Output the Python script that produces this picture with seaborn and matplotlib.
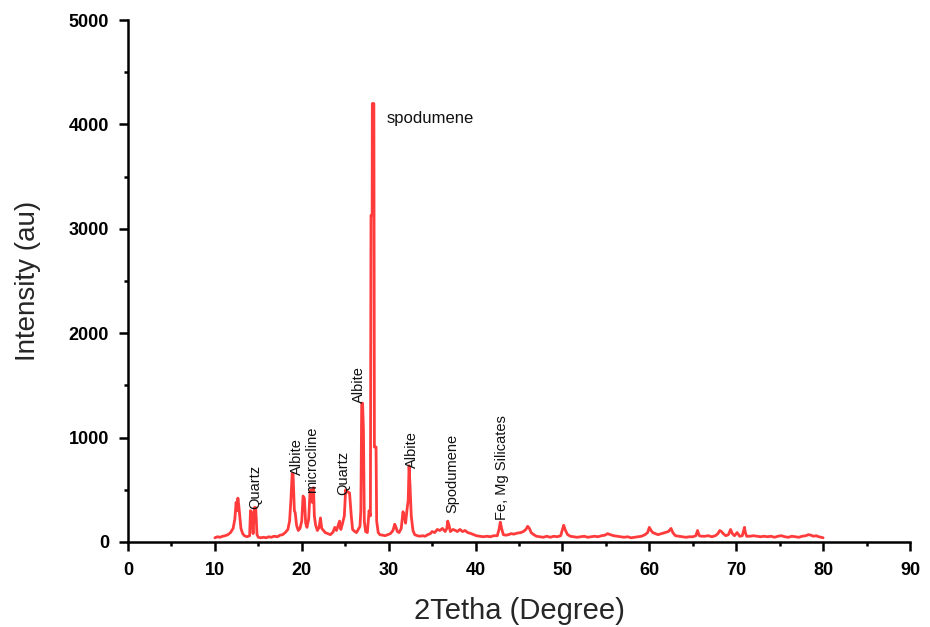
import matplotlib
matplotlib.use("Agg")
import matplotlib.pyplot as plt
import seaborn as sns
import pandas as pd

two_theta = [10.0, 10.3, 10.6, 10.9, 11.2, 11.5, 11.8, 12.1, 12.3, 12.45, 12.55, 12.65, 12.75, 12.85, 13.0, 13.2, 13.4, 13.7,
             14.0, 14.1, 14.25, 14.4, 14.55, 14.7, 14.85, 15.0, 15.3, 15.6, 15.9, 16.2, 16.5, 16.8, 17.2, 17.5, 17.8, 18.1, 18.4,
             18.6, 18.75, 18.9, 19.0, 19.15, 19.25, 19.4, 19.6, 19.8, 20.0, 20.15, 20.3, 20.45, 20.6, 20.8, 20.95,
             21.05, 21.2, 21.35, 21.45, 21.6, 21.8, 22.0, 22.15, 22.3, 22.5, 22.7, 23.0, 23.3, 23.6, 23.8,
             24.0, 24.2, 24.35, 24.5, 24.7, 24.9, 25.05, 25.15, 25.3, 25.5, 25.7, 25.85, 26.1, 26.3, 26.5,
             26.7, 26.8, 26.9, 27.0, 27.1, 27.2, 27.35, 27.55, 27.75, 27.9, 27.97, 28.1, 28.12, 28.3, 28.36, 28.55,
             28.62, 28.8, 29.0, 29.3, 29.6, 29.9, 30.2, 30.5, 30.7, 30.85, 31.0, 31.2, 31.45, 31.65, 31.8, 31.95,
             32.1, 32.25, 32.35, 32.45, 32.6, 32.8, 33.0, 33.3, 33.6, 33.9, 34.2, 34.5, 34.8, 35.0, 35.3, 35.6, 35.9, 36.2, 36.5,
             36.7, 36.8, 36.95, 37.1, 37.4, 37.7, 37.9, 38.2, 38.5, 38.8, 39.1, 39.5, 39.8, 40.1, 40.5, 40.9, 41.3, 41.7, 42.1,
             42.5, 42.7, 42.85, 43.0, 43.2, 43.5, 43.8, 44.1, 44.4, 44.8, 45.2, 45.5, 45.8, 46.0, 46.2, 46.4, 46.7, 47.0, 47.4, 47.8,
             48.2, 48.6, 49.0, 49.4, 49.8, 50.0, 50.15, 50.35, 50.6, 50.9, 51.3, 51.7, 52.1, 52.5, 52.9, 53.3, 53.7, 54.1, 54.5, 54.9,
             55.2, 55.5, 55.9, 56.3, 56.7, 57.1, 57.5, 57.9, 58.3, 58.7, 59.1, 59.5, 59.8, 60.0, 60.2, 60.4, 60.7, 61.0, 61.4, 61.8,
             62.2, 62.5, 62.7, 63.0, 63.4, 63.8, 64.2, 64.6, 65.0, 65.35, 65.55, 65.75, 66.0, 66.4, 66.8, 67.2, 67.6, 67.9,
             68.1, 68.3, 68.5, 68.8, 69.1, 69.35, 69.55, 69.8, 70.1, 70.4, 70.7, 70.95, 71.05, 71.2, 71.6, 72.0, 72.4, 72.8, 73.2, 73.6,
             74.0, 74.4, 74.8, 75.2, 75.6, 76.0, 76.4, 76.8, 77.2, 77.6, 78.0, 78.3, 78.6, 78.9, 79.2, 79.5, 79.8, 80.0]
intensity = [40, 50, 45, 55, 60, 70, 90, 130, 220, 380, 300, 420, 350, 260, 130, 80, 60, 50,
             60, 300, 280, 80, 330, 330, 70, 45, 40, 45, 40, 50, 45, 55, 50, 65, 70, 90, 120,
             200, 400, 660, 650, 300, 280, 160, 110, 130, 200, 440, 420, 180, 140, 220, 480,
             500, 380, 520, 250, 160, 110, 140, 230, 130, 110, 90, 80, 70, 95, 140,
             110, 160, 200, 120, 180, 250, 500, 480, 480, 470, 250, 120, 100, 90, 120,
             150, 300, 1330, 1330, 1070, 200, 100, 90, 300, 250, 3130, 3130, 4200, 4200, 910, 910,
             200, 90, 70, 65, 60, 70, 80, 110, 170, 140, 100, 90, 130, 290, 250, 180,
             300, 400, 730, 560, 250, 110, 70, 60, 55, 60, 55, 70, 80, 100, 90, 120, 110, 130, 100,
             130, 200, 160, 100, 120, 110, 100, 120, 100, 110, 90, 80, 70, 60, 55, 50, 55, 50, 60,
             60, 120, 190, 130, 70, 65, 70, 80, 75, 85, 90, 100, 120, 150, 130, 90, 70, 55, 50, 45,
             55, 45, 55, 50, 60, 120, 160, 110, 70, 55, 50, 45, 50, 55, 45, 50, 55, 50, 60, 65,
             80, 70, 60, 55, 50, 45, 50, 40, 45, 50, 55, 70, 90, 140, 110, 90, 80, 70, 80, 90,
             100, 130, 90, 60, 55, 50, 45, 50, 50, 60, 110, 60, 55, 55, 60, 50, 60, 80,
             110, 100, 80, 60, 70, 120, 80, 60, 90, 55, 60, 140, 90, 55, 55, 60, 55, 50, 55, 50,
             55, 45, 55, 60, 50, 45, 55, 50, 45, 55, 60, 70, 65, 55, 60, 50, 45, 40]

labels = ["Quartz", "Albite", "microcline", "Quartz", "Albite", "Albite", "Spodumene", "Fe, Mg Silicates"]
label_x = [14.6, 19.45, 21.2, 24.75, 26.6, 32.7, 37.3, 43.0]
label_y = [320, 640, 470, 450, 1330, 710, 275, 210]

top_label = "spodumene"
top_label_x = 29.8
top_label_y = 4060

sns.set_style("ticks")
plt.rcParams['font.family'] = ['Liberation Sans', 'DejaVu Sans']

fig = plt.figure(figsize=(9.3, 6.27), dpi=100)
ax = fig.add_axes([0.1376, 0.1356, 0.8409, 0.8325])

df = pd.DataFrame({"2theta": two_theta, "I": intensity})
sns.lineplot(data=df, x="2theta", y="I", ax=ax, color="#ff3b3b", linewidth=2.0, sort=False)

for t, x, y in zip(labels, label_x, label_y):
    ax.text(x, y, t, rotation=90, ha="center", va="bottom", fontsize=10.5, color="#111111")
ax.text(top_label_x, top_label_y, top_label, ha="left", va="center", fontsize=12, color="#111111")

ax.set_xlim(0, 90)
ax.set_ylim(0, 5000)
ax.set_xticks(range(0, 91, 10))
ax.set_yticks(range(0, 5001, 1000))
ax.set_xticks(range(5, 90, 10), minor=True)
ax.set_yticks(range(500, 5000, 1000), minor=True)

for s in ["top", "right"]:
    ax.spines[s].set_visible(False)
for s in ["left", "bottom"]:
    ax.spines[s].set_linewidth(1.8)
    ax.spines[s].set_color("black")

ax.tick_params(axis="both", which="major", direction="out", length=6.5, width=1.8, colors="black", labelsize=13)
ax.tick_params(axis="both", which="minor", direction="out", length=3, width=1.8, colors="black")
ax.tick_params(axis="x", which="major", pad=8)
ax.tick_params(axis="y", which="major", pad=7)
for lab in ax.get_xticklabels() + ax.get_yticklabels():
    lab.set_fontweight("bold")

ax.set_xlabel("2Tetha (Degree)", fontsize=21, labelpad=13)
ax.set_ylabel("Intensity (au)", fontsize=20, labelpad=20)
ax.grid(False)

fig.savefig("out.png", dpi=100)
